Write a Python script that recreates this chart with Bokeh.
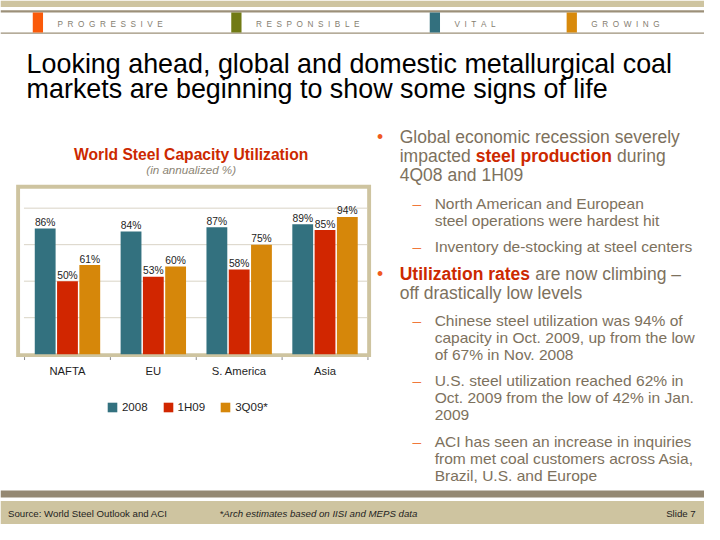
import numpy as np
from bokeh.plotting import figure
from bokeh.models import Range1d, Legend, LegendItem
from bokeh.core.properties import value
from bokeh.embed import file_html
from bokeh.resources import INLINE

# ---------------- data ----------------
regions = ["NAFTA", "EU", "S. America", "Asia"]
series_names = ["2008", "1H09", "3Q09*"]
util_2008 = [86, 84, 87, 89]
util_1h09 = [50, 53, 58, 85]
util_3q09 = [61, 60, 75, 94]
gridline_pcts = [25, 50, 75, 100]
series_colors = ["#33717F", "#D12600", "#D6870A"]

header_words = ["PROGRESSIVE", "RESPONSIBLE", "VITAL", "GROWING"]
header_colors = ["#FA5A0A", "#717A14", "#33707E", "#D88A0C"]
slide_title = ["Looking ahead, global and domestic metallurgical coal",
               "markets are beginning to show some signs of life"]
chart_title = "World Steel Capacity Utilization"
chart_subtitle = "(in annualized %)"

# ---------------- geometry (reference pixel space 720x540) ----------------
W, H = 704, 524
REF_W, REF_H = 720, 540
SX, SY = W / REF_W, H / REF_H
FS = SX  # font scale

Y0_PX, PX_PER_PCT = 364.5, 1.505      # 0% baseline and scale of the bar chart
GX0_PX, PX_PER_GROUP = 68.5, 87.8     # first group center and group pitch
BAR_PITCH, BAR_W = 22.8 / PX_PER_GROUP, 21.3 / PX_PER_GROUP

FONT = value("Liberation Sans")
TEXT_BODY = "#7D715D"
RED = "#CC2900"
BEIGE = "#CEC4A0"
LINE_GRAY = "#9C9079"

p = figure(width=W, height=H, x_range=Range1d(0, REF_W), y_range=Range1d(REF_H, 0),
           output_backend="svg", toolbar_location=None, min_border=0,
           x_axis_location=None, y_axis_location=None)
p.grid.visible = False
p.outline_line_color = None
p.background_fill_color = "white"
p.extra_y_ranges = {"pct": Range1d(start=(Y0_PX - REF_H) / PX_PER_PCT, end=Y0_PX / PX_PER_PCT)}
p.extra_x_ranges = {"grp": Range1d(start=-GX0_PX / PX_PER_GROUP, end=(REF_W - GX0_PX) / PX_PER_GROUP)}


def txt(x, y, texts, size, color, align="left", baseline="middle", style="normal", **kw):
    p.text(x=x, y=y, text=texts, text_font=FONT, text_font_size=f"{size * FS:.2f}px",
           text_color=color, text_align=align, text_baseline=baseline,
           text_font_style=style, **kw)


# ---------------- header ----------------
p.quad(left=0, right=REF_W, top=0, bottom=6.7, fill_color=BEIGE, line_color=None)
p.quad(left=0, right=REF_W, top=10, bottom=12.3, fill_color=LINE_GRAY, line_color=None)
p.quad(left=0, right=REF_W, top=33, bottom=34.2, fill_color=LINE_GRAY, line_color=None)
block_left = [33, 236, 439, 579]
p.quad(left=block_left, right=[b + 10.5 for b in block_left], top=12.3, bottom=33,
       fill_color=header_colors, line_color=None)
spaced = ["\u00a0\u00a0".join(w) for w in header_words]
txt([b + 25.3 for b in block_left], [24.7] * 4, spaced, 8.4, "#857E70")

# ---------------- slide title ----------------
txt([26.7, 26.7], [65, 91.7], slide_title, 27.5, "#000000")

# ---------------- chart ----------------
txt([195], [158.3], [chart_title], 16, RED, align="center", style="bold")
txt([195], [174.3], [chart_subtitle], 11.9, "#8C8574", align="center", style="italic")

p.quad(left=16, right=379, top=190, bottom=367.5, fill_color=BEIGE, line_color=None)
p.quad(left=20, right=375, top=194, bottom=363.5, fill_color="white", line_color=None)
p.segment(x0=24, x1=375, y0=gridline_pcts, y1=gridline_pcts, y_range_name="pct",
          line_color="#D9D4C6", line_width=1)

idx = np.arange(len(regions))
bounds = np.arange(len(regions) + 1) - 0.5
p.segment(x0=bounds, x1=bounds, y0=367.5, y1=370.5, x_range_name="grp",
          line_color="#8A8A8A", line_width=1)

renderers = []
for j, (vals, col) in enumerate(zip([util_2008, util_1h09, util_3q09], series_colors)):
    xs = idx + (j - 1) * BAR_PITCH
    r = p.vbar(x=xs, top=vals, bottom=0, width=BAR_W, x_range_name="grp", y_range_name="pct",
               fill_color=col, line_color=None)
    renderers.append(r)
    txt(xs, vals, [f"{v}%" for v in vals], 10.5, "#222222", align="center",
        baseline="alphabetic", y_offset=-6, x_range_name="grp", y_range_name="pct")

txt(idx, [381.7] * len(regions), regions, 11.5, "#1E1E1E", align="center", x_range_name="grp")

legend = Legend(items=[LegendItem(label=n, renderers=[r]) for n, r in zip(series_names, renderers)],
                orientation="horizontal", location=(108.3 * SX, H - 426 * SY),
                padding=0, margin=0, spacing=14, label_standoff=4,
                glyph_width=12, glyph_height=12, label_height=12,
                label_text_font="Liberation Sans", label_text_font_size=f"{11.8 * FS:.2f}px",
                label_text_color="#1E1E1E", border_line_color=None, background_fill_alpha=0)
p.add_layout(legend)

# ---------------- right-hand text ----------------
txt([388.3, 388.3], [140.7, 282.3], ["\u2022", "\u2022"], 17.9, "#F05A1E", align="center")
txt([425.7] * 5, [209.3, 253.3, 330, 391.7, 454], ["\u2013"] * 5, 15.9, "#F0783A", align="center")

txt([408.3, 408.3, 630.5, 408.3, 546.8, 408.3],
    [140.7, 160.7, 160.7, 180.3, 282.3, 301.7],
    ["Global economic recession severely", "impacted", "during", "4Q08 and 1H09",
     "are now climbing \u2013", "off drastically low levels"], 17.9, TEXT_BODY)
txt([486, 408.3], [160.7, 282.3], ["steel production", "Utilization rates"], 17.9, RED, style="bold")

sub_lines = ["North American and European", "steel operations were hardest hit",
             "Inventory de-stocking at steel centers",
             "Chinese steel utilization was 94% of", "capacity in Oct. 2009, up from the low",
             "of 67% in Nov. 2008",
             "U.S. steel utilization reached 62% in", "Oct. 2009 from the low of 42% in Jan.", "2009",
             "ACI has seen an increase in inquiries", "from met coal customers across Asia,",
             "Brazil, U.S. and Europe"]
sub_y = [209.3, 226.3, 253.3, 330, 347.7, 364.5, 391.7, 409.3, 426.7, 454, 471.7, 489]
txt([444] * len(sub_lines), sub_y, sub_lines, 15.9, TEXT_BODY)

# ---------------- footer ----------------
p.quad(left=0, right=REF_W, top=505, bottom=512.3, fill_color="#948872", line_color=None)
p.quad(left=0, right=REF_W, top=515.7, bottom=REF_H, fill_color=BEIGE, line_color=None)
txt([7.7], [528.3], ["Source: World Steel Outlook and ACI"], 9.9, "#1E1E1E")
txt([224], [528.3], ["*Arch estimates based on IISI and MEPS data"], 9.9, "#1E1E1E", style="italic")
txt([711], [528.3], ["Slide 7"], 9.9, "#1E1E1E", align="right")

open("out.html", "w").write(file_html(p, INLINE))
